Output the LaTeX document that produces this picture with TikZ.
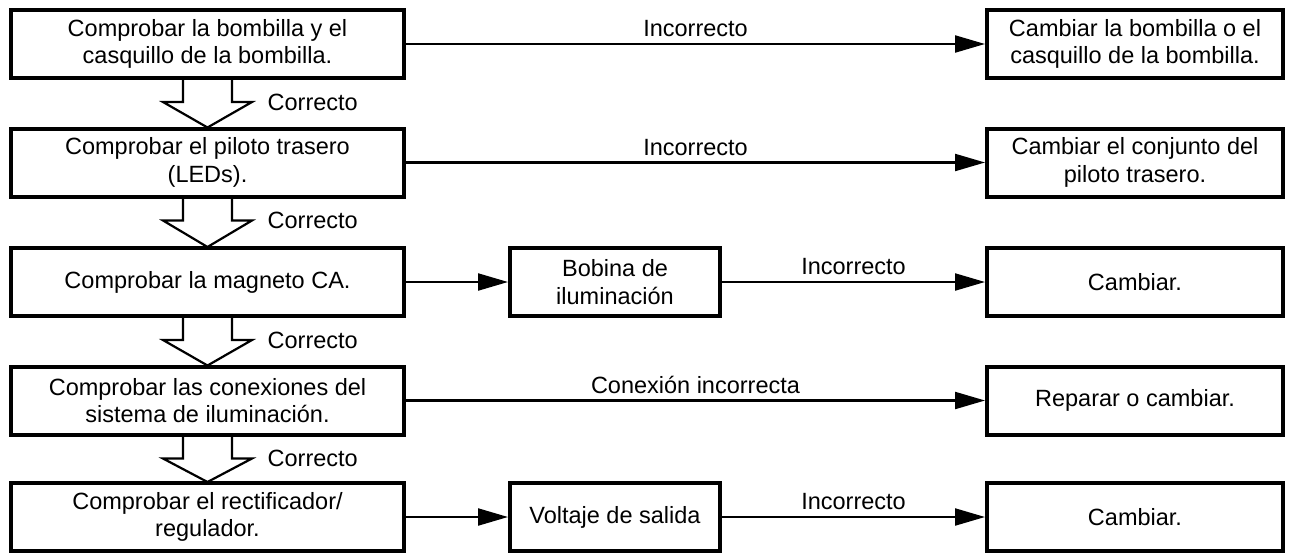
\documentclass[tikz,border=0pt]{standalone}
\usepackage{fontspec}
\setmainfont{Liberation Sans}
\usetikzlibrary{arrows.meta,calc}
\begin{document}
\begin{tikzpicture}[x=1pt,y=-1pt,
  font=\fontsize{23.5}{27.5}\selectfont,
  box/.style={draw=black, line width=4pt, fill=white, align=center, inner sep=2pt, minimum height=68pt},
  lbox/.style={box, minimum width=393pt},
  mbox/.style={box, minimum width=210pt},
  rbox/.style={box, minimum width=296pt},
  conn/.style={line width=2.2pt, -{Triangle[length=30pt,width=17pt]}},
  blk/.style={line width=2.2pt, line join=miter},
  lab/.style={above=6pt, inner sep=0pt},
  oklab/.style={anchor=west, inner sep=0pt}
]
\useasboundingbox (0,0) rectangle (1290,552);

% left column
\node[lbox] (b1) at (207.5,44) {Comprobar la bombilla y el\\casquillo de la bombilla.};
\node[lbox] (b2) at (207.5,162.5) {Comprobar el piloto trasero\\(LEDs).};
\node[lbox] (b3) at (207.5,282) {Comprobar la magneto CA.};
\node[lbox] (b4) at (207.5,400.5) {Comprobar las conexiones del\\sistema de iluminación.};
\node[lbox] (b5) at (207.5,517) {Comprobar el rectificador/\\regulador.};

% middle column
\node[mbox] (m3) at (615,282) {Bobina de\\iluminación};
\node[mbox] (m5) at (615,517) {Voltaje de salida};

% right column
\node[rbox] (r1) at (1135,44) {Cambiar la bombilla o el\\casquillo de la bombilla.};
\node[rbox] (r2) at (1135,162.5) {Cambiar el conjunto del\\piloto trasero.};
\node[rbox] (r3) at (1135,282) {Cambiar.};
\node[rbox] (r4) at (1135,400.5) {Reparar o cambiar.};
\node[rbox] (r5) at (1135,517) {Cambiar.};

% connectors
\draw[conn] (b1.east) -- node[lab] (l1) {Incorrecto} (r1.west);
\draw[conn] (b2.east) -- node[lab] (l2) {Incorrecto} (r2.west);
\draw[conn] (b3.east) -- (m3.west);
\draw[conn] (m3.east) -- node[lab] (l3) {Incorrecto} (r3.west);
\draw[conn] (b4.east) -- node[lab] (l4) {Conexión incorrecta} (r4.west);
\draw[conn] (b5.east) -- (m5.west);
\draw[conn] (m5.east) -- node[lab] (l5) {Incorrecto} (r5.west);

% block arrows "Correcto"
\foreach \a/\b in {b1/b2,b2/b3,b3/b4,b4/b5}{
  \draw[blk] ($(\a.south)+(-24.5,-1)$) -- ++(0,23) -- ++(-20,0)
    -- ($(\b.north)+(0,1)$) -- ($(\a.south)+(44.5,22)$) -- ++(-20,0) -- ++(0,-23);
  \node[oklab] (ok-\a) at ($(\a.south)+(60,22)$) {Correcto};
}
\end{tikzpicture}
\end{document}
